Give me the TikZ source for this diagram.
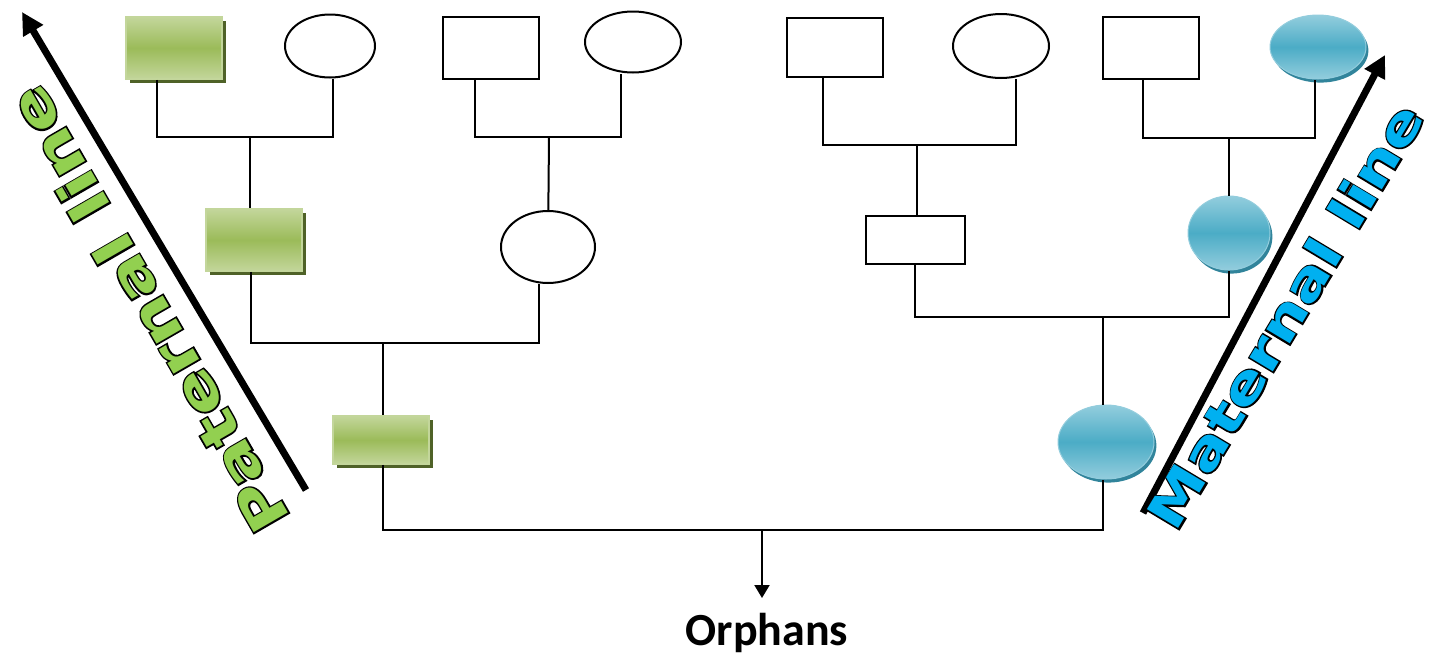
\documentclass[tikz,border=0pt]{standalone}
\usepackage{fontspec}
\setmainfont{Carlito}
\newfontfamily\linefont{DejaVu Sans Bold}[FakeStretch=1.3]
\newfontfamily\lineedge{DejaVu Sans Bold}[FakeStretch=1.3,FakeBold=6]
\usetikzlibrary{shapes.geometric,arrows.meta,shadows}
\definecolor{greenmd}{HTML}{9BBB59}
\definecolor{greenlt}{HTML}{C3D69B}
\definecolor{greendk}{HTML}{4F6228}
\definecolor{bluemd}{HTML}{4BACC6}
\definecolor{bluelt}{HTML}{93CDDD}
\definecolor{bluedk}{HTML}{31849B}
\definecolor{patgreen}{HTML}{92D050}
\definecolor{matblue}{HTML}{00B0F0}
\newcommand{\outlined}[2]{\rlap{\lineedge\color{black}#2}{\color{#1}#2}}
\begin{document}
\begin{tikzpicture}[x=0.5pt,y=-0.5pt,line width=1pt,
  male/.style={draw,rectangle,inner sep=0pt,minimum width=48pt,minimum height=31pt},
  female/.style={draw,ellipse,inner sep=0pt,minimum width=45pt,minimum height=31.5pt},
  patbox/.style={rectangle,inner sep=0pt,minimum width=48pt,minimum height=31pt,
    draw=greenlt,line width=0.8pt,top color=greenlt,bottom color=greenlt,middle color=greenmd,
    drop shadow={shadow xshift=2pt,shadow yshift=-2pt,fill=greendk,opacity=1}},
  matoval/.style={ellipse,inner sep=0pt,minimum width=48pt,minimum height=32pt,
    draw=bluelt,line width=0.5pt,top color=bluelt,bottom color=bluelt,middle color=bluemd,
    drop shadow={shadow xshift=1.2pt,shadow yshift=-1.8pt,fill=bluedk,opacity=1}},
  bigarrow/.style={line width=3.5pt,-{Triangle[length=11pt,width=11pt]}},
  linetext/.style={font=\linefont\fontsize{27}{27}\selectfont,inner sep=0pt}]
\useasboundingbox (0,0) rectangle (1437,654);

% top row
\node[patbox] (g1) at (174,48) {};
\node[female] (o1) at (330,46) {};
\node[male] (r1) at (491,48) {};
\node[female,minimum width=48pt,minimum height=30.5pt] (o2) at (633,42) {};
\node[male,minimum height=29.5pt] (r2) at (835,47) {};
\node[female,minimum width=48pt,minimum height=32pt] (o3) at (1001,46) {};
\node[male] (r3) at (1151,48) {};
\node[matoval] (b1) at (1318,47) {};

% parents
\node[patbox] (g2) at (254,240) {};
\node[female,minimum width=47pt,minimum height=36pt] (o4) at (548,247) {};
\node[male,minimum width=49.5pt,minimum height=24pt] (r4) at (915,240) {};
\node[matoval,minimum width=41pt,minimum height=37pt] (b2) at (1229,233) {};

\node[patbox,minimum height=24pt] (g3) at (381,440) {};
\node[matoval,minimum height=37pt] (b3) at (1106,442) {};

\node[anchor=north,inner xsep=0pt,inner ysep=7pt,font=\bfseries\fontsize{23}{23}\selectfont] (orph) at (767,598) {Orphans};

\coordinate (j1) at (250,137);
\coordinate (j2) at (549,137);
\coordinate (j3) at (917,145);
\coordinate (j4) at (1229,138);
\coordinate (j5) at (383,343);
\coordinate (j6) at (1103,317);
\coordinate (j7) at (762,530);

\draw (g1.south) ++(-17,0) |- (j1) -| ([xshift=1.5pt]o1.south);
\draw (j1) -- (j1 |- g2.north);
\draw (r1.south) ++(-16,0) |- (j2) -| ([xshift=-6pt]o2.south);
\draw (j2) -- (o4);
\draw (r2.south) ++(-12,0) |- (j3) -| ([xshift=7.5pt]o3.south);
\draw (j3) -- (j3 |- r4.north);
\draw (r3.south) ++(-8,0) |- (j4) -| ([xshift=-1.5pt]b1.south);
\draw (j4) -- (b2);

\draw (g2.south) ++(-3,0) |- (j5) -| ([xshift=-4.5pt]o4.south);
\draw (j5) -- (j5 |- g3.north);
\draw (r4.south) |- (j6) -| (b2.south);
\draw (j6) -- (j6 |- b3.north);

\draw (g3.south) ++(2,0) |- (j7) -| ([xshift=-1.5pt]b3.south);
\draw[-{Triangle[length=6.5pt,width=7.5pt]}] (j7) -- (j7 |- orph.north);

% lines of descent
\coordinate (pa0) at (306,490);
\coordinate (pa1) at (22,12);
\coordinate (ma0) at (1143,513);
\coordinate (ma1) at (1385,55);
\draw[bigarrow] (pa0) -- (pa1);
\draw[bigarrow] (ma0) -- (ma1);
\node[linetext,rotate=120] (patl) at (148,310) {\outlined{patgreen}{Paternal line}};
\node[linetext,font=\linefont\fontsize{25}{25}\selectfont,rotate=59] (matl) at (1285,316) {\outlined{matblue}{Maternal line}};
\end{tikzpicture}
\end{document}
